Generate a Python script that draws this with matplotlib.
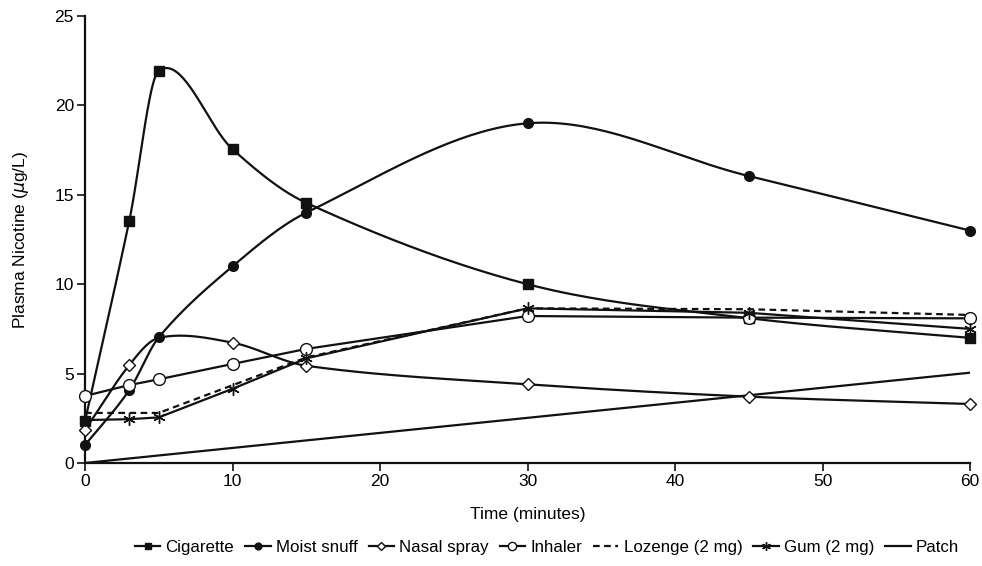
"""Plasma nicotine vs time for seven nicotine products."""
import matplotlib
matplotlib.use("Agg")
import matplotlib.pyplot as plt
from matplotlib.lines import Line2D
import numpy as np

plt.rcParams["font.family"] = ["Liberation Sans", "DejaVu Sans"]

minutes = [0, 3, 5, 10, 15, 30, 45, 60]
cigarette = [2.35, 13.55, 21.95, 17.55, 14.55, 10.0, 8.1, 7.0]
moist_snuff = [1.0, 4.08, 7.03, 11.0, 14.0, 19.0, 16.05, 13.0]
nasal_spray = [1.85, 5.48, 7.0, 6.73, 5.44, 4.4, 3.71, 3.3]
inhaler = [3.75, 4.36, 4.68, 5.54, 6.38, 8.22, 8.13, 8.09]
lozenge = [2.8, 2.8, 2.8, 4.35, 5.9, 8.65, 8.6, 8.28]
gum = [2.4, 2.45, 2.55, 4.15, 5.85, 8.65, 8.4, 7.5]
patch_minutes = [0, 60]
patch = [0.0, 5.05]


def smooth(x, y, n=40):
    # cubic Hermite through the points, tangents from neighbours
    x = np.asarray(x, float); y = np.asarray(y, float)
    m = np.empty_like(y)
    m[1:-1] = (y[2:] - y[:-2]) / (x[2:] - x[:-2])
    m[0] = (y[1] - y[0]) / (x[1] - x[0])
    m[-1] = (y[-1] - y[-2]) / (x[-1] - x[-2])
    xs, ys = [], []
    for i in range(len(x) - 1):
        h = x[i + 1] - x[i]
        t = np.linspace(0, 1, n)
        h00 = 2 * t**3 - 3 * t**2 + 1; h10 = t**3 - 2 * t**2 + t
        h01 = -2 * t**3 + 3 * t**2; h11 = t**3 - t**2
        xs.append(x[i] + t * h)
        ys.append(h00 * y[i] + h10 * h * m[i] + h01 * y[i + 1] + h11 * h * m[i + 1])
    return np.concatenate(xs), np.concatenate(ys)


fig = plt.figure(figsize=(9.82, 5.66), dpi=100)
ax = fig.add_axes([0.0866, 0.182, 0.9012, 0.7897])
LW = 1.6
K = "#111111"

series = [
    ("Cigarette", cigarette, "-", True, dict(marker="s", ms=6.5, mfc=K, mec=K)),
    ("Moist snuff", moist_snuff, "-", True, dict(marker="o", ms=7, mfc=K, mec=K)),
    ("Nasal spray", nasal_spray, "-", True, dict(marker="D", ms=6.5, mfc="white", mec=K, mew=1.0)),
    ("Inhaler", inhaler, "-", False, dict(marker="o", ms=8.5, mfc="white", mec=K, mew=1.0)),
    ("Lozenge (2 mg)", lozenge, (0, (3, 2)), False, dict(marker=None)),
    ("Gum (2 mg)", gum, "-", False, dict(marker=(6, 2, 0), ms=9, mec=K, mew=1.0)),
]

handles = []
for name, vals, ls, curved, mk in series:
    sx, sy = smooth(minutes, vals) if curved else (minutes, vals)
    ax.plot(sx, sy, color=K, lw=LW, ls=ls, clip_on=False, zorder=2)
    if mk.get("marker"):
        idx = [i for i in range(len(minutes)) if not (name == "Nasal spray" and minutes[i] == 5)]
        ax.plot([minutes[i] for i in idx], [vals[i] for i in idx], ls="none",
                clip_on=False, zorder=3, **mk)
    handles.append(Line2D([], [], color=K, lw=LW, ls=ls, **mk))

ax.plot(patch_minutes, patch, color=K, lw=LW, zorder=2)
handles.append(Line2D([], [], color=K, lw=LW))

ax.set_xlim(0, 60); ax.set_ylim(0, 25)
ax.set_xticks(range(0, 61, 10)); ax.set_yticks(range(0, 26, 5))
for s in ("top", "right"):
    ax.spines[s].set_visible(False)
for s in ("left", "bottom"):
    ax.spines[s].set_linewidth(1.6); ax.spines[s].set_color(K)
ax.tick_params(length=6, width=1.2, labelsize=12.5, color=K, pad=2)
ax.set_xlabel("Time (minutes)", fontsize=12.5, labelpad=13)
ax.set_ylabel("Plasma Nicotine ($\\mu$g/L)", fontsize=12.5, labelpad=17)

labels = [s[0] for s in series] + ["Patch"]
fig.legend(handles, labels, loc="center", bbox_to_anchor=(0.557, 0.032), ncol=7,
           frameon=False, fontsize=12.2, handlelength=1.5, handletextpad=0.3,
           columnspacing=0.65, markerscale=0.7)

fig.savefig("out.png", dpi=100)
